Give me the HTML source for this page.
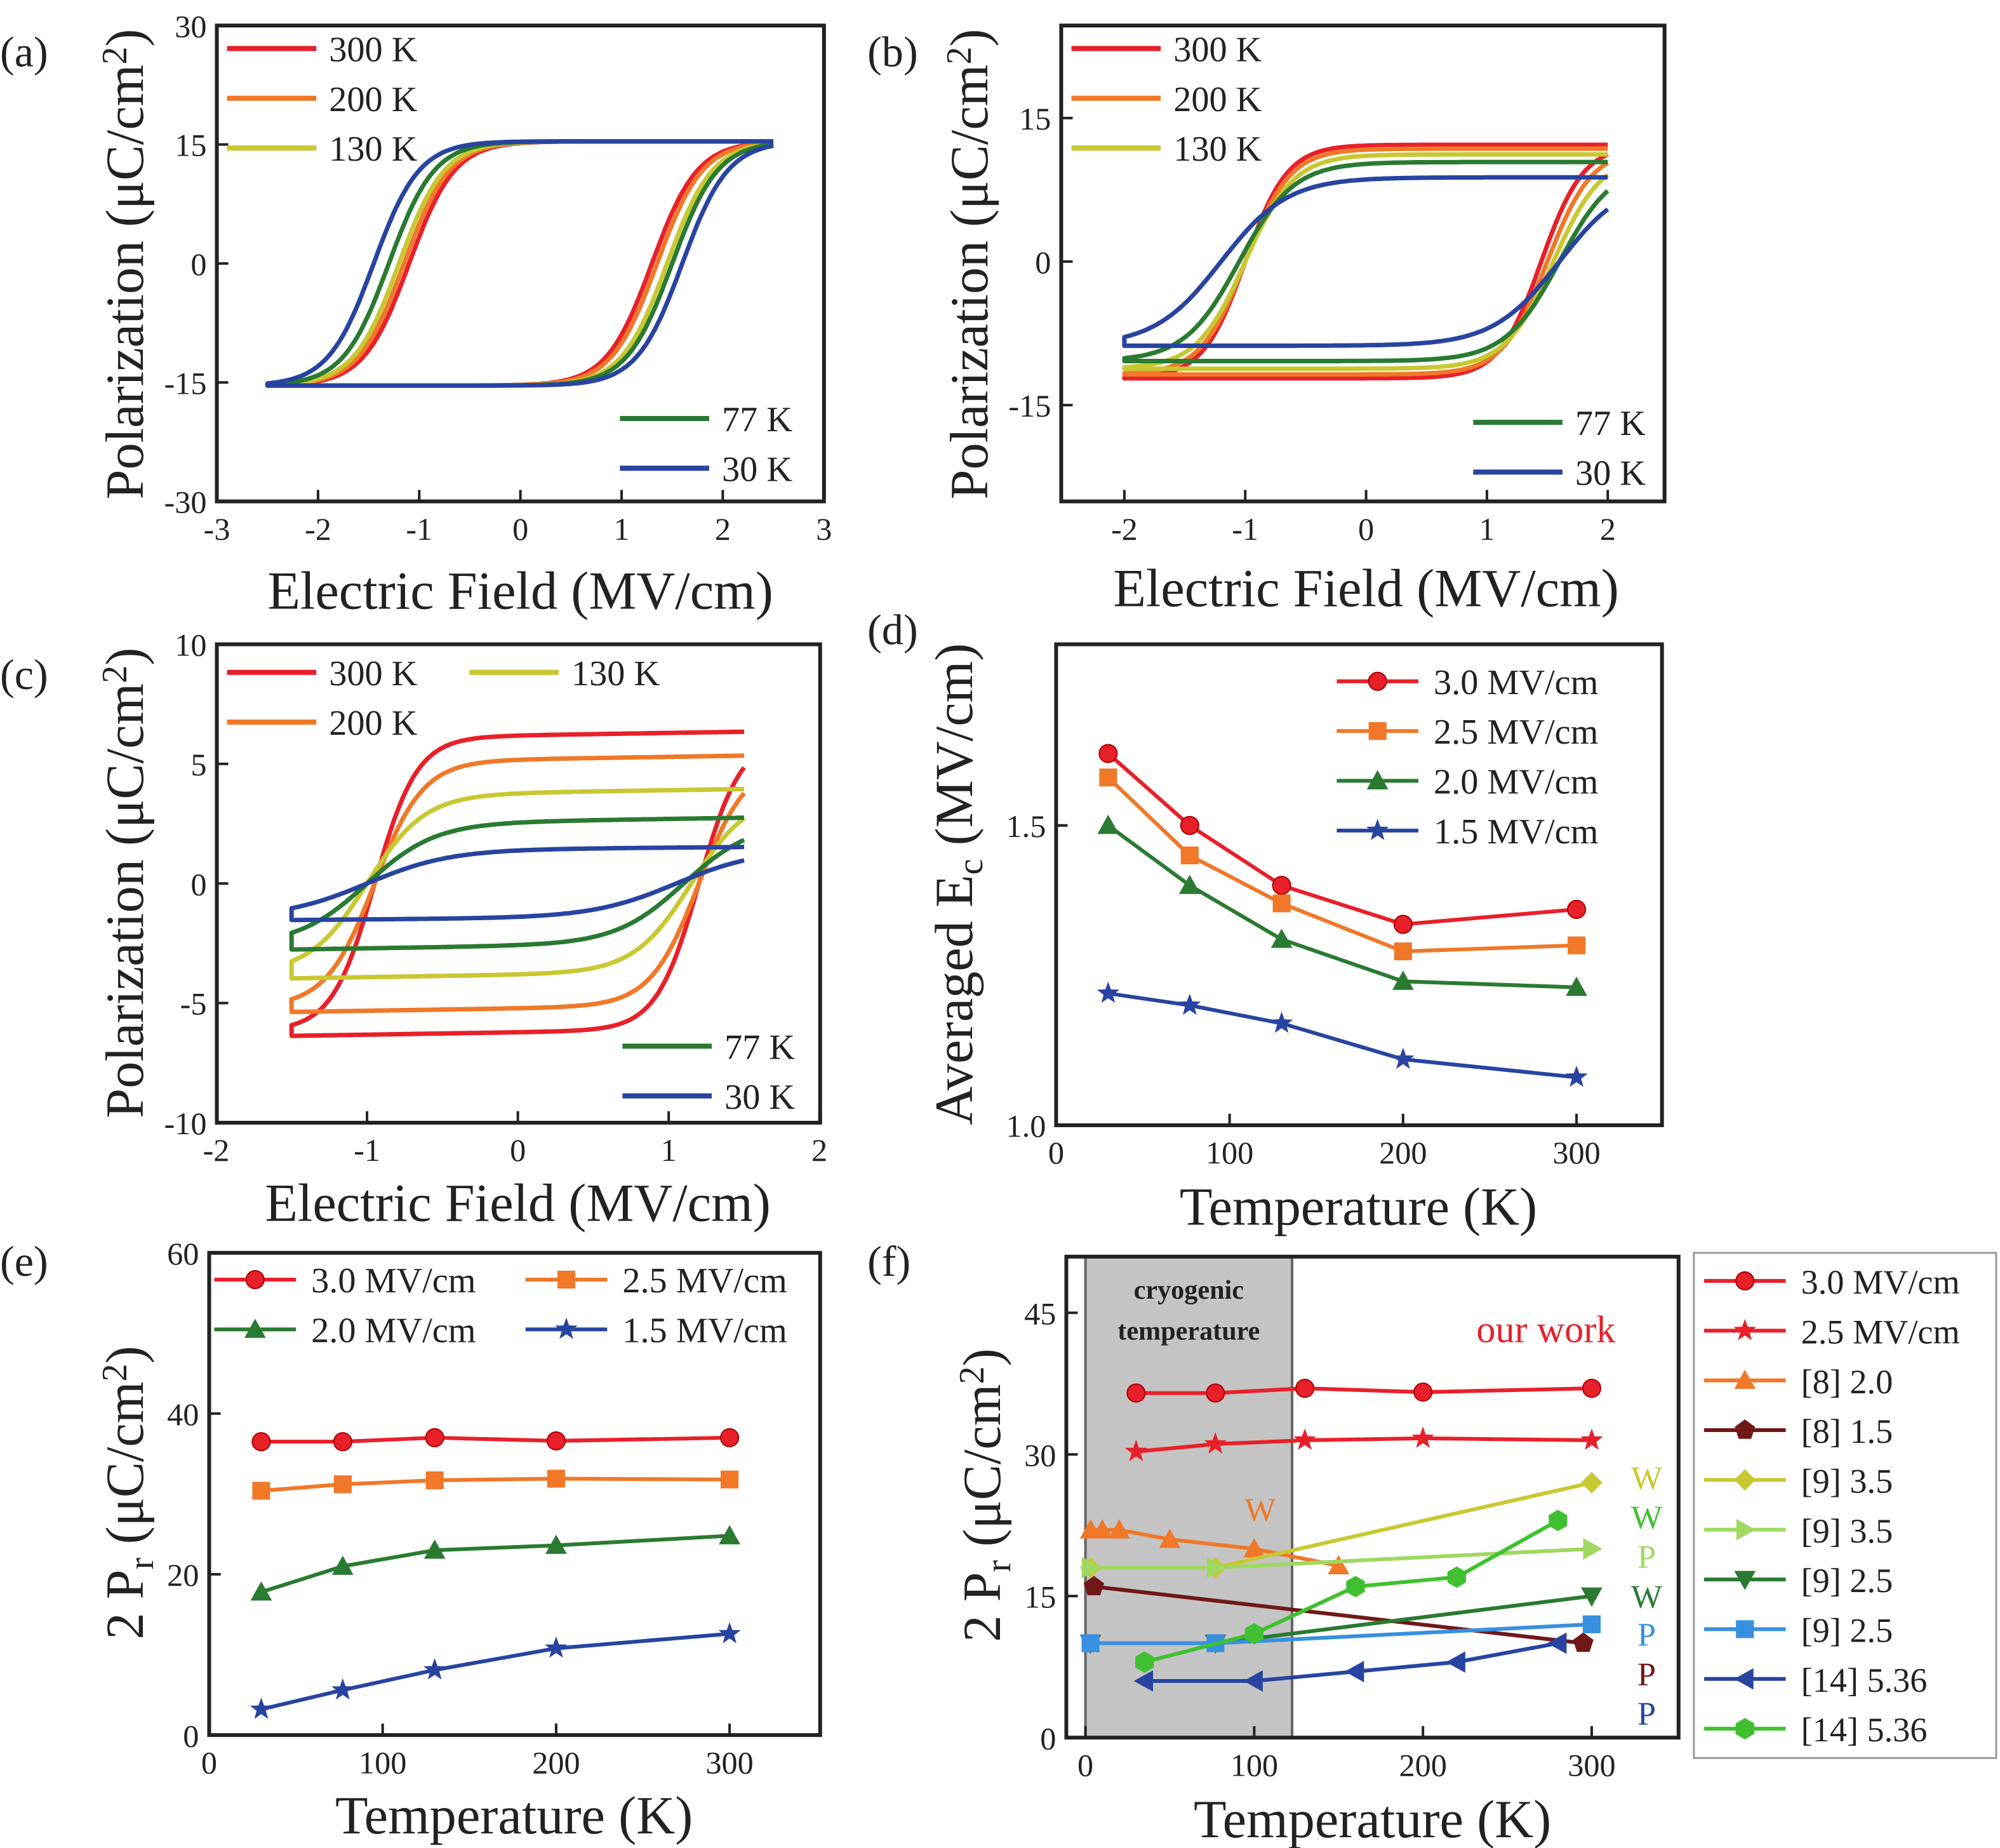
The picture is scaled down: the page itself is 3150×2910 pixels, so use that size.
<!DOCTYPE html>
<html><head><meta charset="utf-8"><style>
html,body{margin:0;padding:0;background:#fff;}
svg{display:block;font-family:"Liberation Serif",serif;}
</style></head><body>
<svg id="s" width="3150" height="2910" viewBox="0 0 1568 1448.5" xmlns="http://www.w3.org/2000/svg"></svg>
<script>
const S=document.getElementById('s');let h='';
const R='#e8202a',O='#f07828',Y='#c8c832',G='#2a7a32',B='#2844a0';
function txt(x,y,t,sz,anchor,fill,extra){h+=`<text x="${x}" y="${y}" font-size="${sz}" text-anchor="${anchor||'start'}" fill="${fill||'#222'}" ${extra||''}>${t}</text>`;}
function frame(x0,y0,x1,y1){h+=`<rect x="${x0}" y="${y0}" width="${x1-x0}" height="${y1-y0}" fill="none" stroke="#222" stroke-width="3"/>`;}
function xt(px,y1,lab){h+=`<line x1="${px}" y1="${y1}" x2="${px}" y2="${y1-9}" stroke="#222" stroke-width="2"/>`;txt(px,y1+30,lab,25,'middle');}
function yt(py,x0,lab){h+=`<line x1="${x0}" y1="${py}" x2="${x0+9}" y2="${py}" stroke="#222" stroke-width="2"/>`;txt(x0-8,py+9,lab,25,'end');}
function path(pts,c,w){h+=`<path d="M${pts.map(p=>p[0].toFixed(1)+','+p[1].toFixed(1)).join('L')}" fill="none" stroke="${c}" stroke-width="${w||3.5}" stroke-linejoin="round"/>`;}
function loop(fx,fy,Em,Ps,en,ep,w,lin,c){
  let up=[],lo=[];
  for(let i=0;i<=200;i++){let E=Em-2*Em*i/200;up.push([fx(E),fy(Ps*Math.tanh((E+en)/w)+lin*(E+en))]);}
  for(let i=0;i<=200;i++){let E=-Em+2*Em*i/200;lo.push([fx(E),fy(Ps*Math.tanh((E-ep)/w)+lin*(E-ep))]);}
  path(up.concat(lo),c,3.5);
}
function leg(x,y,c,t,sz){h+=`<line x1="${x}" y1="${y}" x2="${x+70}" y2="${y}" stroke="${c}" stroke-width="4"/>`;txt(x+80,y+10,t,sz||28);}
function ytitle(x,y,content){h+=`<text transform="translate(${x},${y}) rotate(-90)" font-size="42" text-anchor="middle" fill="#222">${content}</text>`;}
const AT=42;
// (a)
{let fx=E=>408+E*79.33,fy=P=>206.5-P*6.217;
 frame(170,20,646,393);
 [-3,-2,-1,0,1,2,3].forEach(v=>xt(fx(v),393,v));[-30,-15,0,15,30].forEach(v=>yt(fy(v),170,v));
 [[R,1.1,1.3],[O,1.15,1.35],[Y,1.2,1.45],[G,1.3,1.5],[B,1.45,1.6]].forEach(a=>loop(fx,fy,2.5,15.4,a[1],a[2],0.45,0,a[0]));
 leg(178,38,R,'300 K');leg(178,77,O,'200 K');leg(178,116,Y,'130 K');leg(486,328,G,'77 K');leg(486,367,B,'30 K');
 txt(0,52,'(a)',34);ytitle(112,207,'Polarization (μC/cm<tspan dy="-13" font-size="28">2</tspan><tspan dy="13">)</tspan>');
 txt(408,477,'Electric Field (MV/cm)',AT,'middle');}
// (b)
{let fx=E=>1071+E*94.75,fy=P=>205-P*7.5;
 frame(832,20,1305,393);
 [-2,-1,0,1,2].forEach(v=>xt(fx(v),393,v));[-15,0,15].forEach(v=>yt(fy(v),832,v));
 [[R,12.2,1.0,1.45,0.35],[O,11.8,1.0,1.5,0.37],[Y,11.2,1.0,1.55,0.4],[G,10.4,1.05,1.6,0.45],[B,8.8,1.2,1.6,0.55]].forEach(a=>loop(fx,fy,2,a[1],a[2],a[3],a[4],0,a[0]));
 leg(840,38,R,'300 K');leg(840,77,O,'200 K');leg(840,116,Y,'130 K');leg(1155,331,G,'77 K');leg(1155,370,B,'30 K');
 txt(680,52,'(b)',34);ytitle(774,207,'Polarization (μC/cm<tspan dy="-13" font-size="28">2</tspan><tspan dy="13">)</tspan>');
 txt(1071,475,'Electric Field (MV/cm)',AT,'middle');}
// (c)
{let fx=E=>406+E*118.25,fy=P=>692.5-P*18.75;
 frame(170,505,643,880);
 [-2,-1,0,1,2].forEach(v=>xt(fx(v),880,v));[-10,-5,0,5,10].forEach(v=>yt(fy(v),170,v));
 [[R,6.1,0.95,1.2,0.28,0.1],[O,5.1,0.95,1.2,0.32,0.1],[Y,3.7,1.0,1.15,0.38,0.1],[G,2.5,1.0,1.1,0.45,0.1],[B,1.4,1.0,1.05,0.55,0.05]].forEach(a=>loop(fx,fy,1.5,a[1],a[2],a[3],a[4],a[5],a[0]));
 leg(178,527,R,'300 K');leg(178,566,O,'200 K');leg(368,527,Y,'130 K');leg(488,820,G,'77 K');leg(488,859,B,'30 K');
 txt(0,540,'(c)',34);ytitle(112,692,'Polarization (μC/cm<tspan dy="-13" font-size="28">2</tspan><tspan dy="13">)</tspan>');
 txt(406,957,'Electric Field (MV/cm)',AT,'middle');}
function mark(x,y,t,c,r){r=r||7;let s='';
 if(t=='o')s=`<circle cx="${x}" cy="${y}" r="${r}" fill="${c}" stroke="#a00" stroke-width="1"/>`;
 else if(t=='s')s=`<rect x="${x-r}" y="${y-r}" width="${2*r}" height="${2*r}" fill="${c}"/>`;
 else{let pts;const R2=r*1.2;
  if(t=='^')pts=[[0,-R2],[R2,R2*.8],[-R2,R2*.8]];
  else if(t=='v')pts=[[0,R2],[R2,-R2*.8],[-R2,-R2*.8]];
  else if(t=='>')pts=[[R2,0],[-R2*.8,R2],[-R2*.8,-R2]];
  else if(t=='<')pts=[[-R2,0],[R2*.8,R2],[R2*.8,-R2]];
  else if(t=='d')pts=[[0,-R2],[R2,0],[0,R2],[-R2,0]];
  else{let n=t=='p'?5:(t=='h'?6:10);pts=[];for(let i=0;i<n;i++){let a=-Math.PI/2+i*2*Math.PI/n;let rr=t=='*'?(i%2?R2*.45:R2*1.1):R2;pts.push([rr*Math.cos(a),rr*Math.sin(a)]);}}
  s=`<polygon points="${pts.map(p=>(x+p[0]).toFixed(1)+','+(y+p[1]).toFixed(1)).join(' ')}" fill="${c}"/>`;}
 h+=s;}
function series(fx,fy,d,c,m){path(d.map(p=>[fx(p[0]),fy(p[1])]),c,3);d.forEach(p=>mark(fx(p[0]),fy(p[1]),m,c));}
function lleg(x,y,c,m,t,sz){h+=`<line x1="${x}" y1="${y}" x2="${x+64}" y2="${y}" stroke="${c}" stroke-width="3"/>`;mark(x+32,y,m,c);txt(x+76,y+10,t,sz||28);}
const T=[30,77,130,200,300];
// (d)
{let fx=t=>828+t*1.36,fy=v=>882-(v-1)*470;
 frame(828,505,1303,882);
 [0,100,200,300].forEach(v=>xt(fx(v),882,v));[[1.0,'1.0'],[1.5,'1.5']].forEach(v=>yt(fy(v[0]),828,v[1]));
 [[[1.62,1.50,1.40,1.335,1.36],R,'o'],[[1.58,1.45,1.37,1.29,1.30],O,'s'],[[1.50,1.40,1.31,1.24,1.23],G,'^'],[[1.22,1.20,1.17,1.11,1.08],B,'*']].forEach(a=>series(fx,fy,T.map((t,i)=>[t,a[0][i]]),a[1],a[2]));
 lleg(1048,534,R,'o','3.0 MV/cm');lleg(1048,573,O,'s','2.5 MV/cm');lleg(1048,612,G,'^','2.0 MV/cm');lleg(1048,651,B,'*','1.5 MV/cm');
 txt(680,505,'(d)',34);ytitle(762,693,'Averaged E<tspan dy="8" font-size="28">c</tspan><tspan dy="-8"> (MV/cm)</tspan>');
 txt(1065,960,'Temperature (K)',AT,'middle');}
// (e)
{let fx=t=>164+t*1.36,fy=v=>1360-v*6.3;
 frame(164,982,643,1360);
 [0,100,200,300].forEach(v=>xt(fx(v),1360,v));[0,20,40,60].forEach(v=>yt(fy(v),164,v));
 [[[36.5,36.5,37,36.6,37],R,'o'],[[30.4,31.2,31.7,31.9,31.8],O,'s'],[[17.8,21,23,23.6,24.8],G,'^'],[[3.2,5.6,8.1,10.8,12.6],B,'*']].forEach(a=>series(fx,fy,T.map((t,i)=>[t,a[0][i]]),a[1],a[2]));
 lleg(168,1003,R,'o','3.0 MV/cm');lleg(412,1003,O,'s','2.5 MV/cm');lleg(168,1042,G,'^','2.0 MV/cm');lleg(412,1042,B,'*','1.5 MV/cm');
 txt(0,1000,'(e)',34);ytitle(112,1170,'2 P<tspan dy="8" font-size="28">r</tspan><tspan dy="-8"> (μC/cm</tspan><tspan dy="-13" font-size="28">2</tspan><tspan dy="13">)</tspan>');
 txt(403,1437,'Temperature (K)',AT,'middle');}
// (f)
{let fx=t=>851+t*1.323,fy=v=>1362-v*7.4;
 h+=`<rect x="851" y="985" width="162" height="377" fill="#c4c4c4" stroke="#666" stroke-width="2"/>`;
 frame(836,985,1316,1362);
 [0,100,200,300].forEach(v=>xt(fx(v),1362,v));[0,15,30,45].forEach(v=>yt(fy(v),836,v));
 const LO='#a0d860',LB='#3890e0',DR='#701818',HG='#40c030',DG='#2a7a32';
 series(fx,fy,[[30,36.5],[77,36.5],[130,37],[200,36.6],[300,37]],R,'o');
 series(fx,fy,[[30,30.3],[77,31.1],[130,31.5],[200,31.7],[300,31.5]],R,'*');
 series(fx,fy,[[3,22],[10,22],[20,22],[50,21],[100,20],[150,18.2]],O,'^');
 series(fx,fy,[[5,16],[295,10]],DR,'p');
 series(fx,fy,[[3,18],[77,18],[300,27]],Y,'d');
 series(fx,fy,[[3,18],[77,18],[300,20]],LO,'>');
 series(fx,fy,[[3,10],[77,10],[300,15]],DG,'v');
 series(fx,fy,[[3,10],[77,10],[300,12]],LB,'s');
 series(fx,fy,[[35,6],[100,6],[160,7],[220,8],[280,10]],B,'<');
 series(fx,fy,[[35,8],[100,11],[160,16],[220,17],[280,23]],HG,'h');
 txt(932,1018,'cryogenic',21,'middle','#222','font-weight="bold"');txt(932,1050,'temperature',21,'middle','#222','font-weight="bold"');
 txt(1212,1052,'our work',30,'middle',R);txt(988,1192,'W',26,'middle',O);
 [['W',1167,Y],['W',1198,HG],['P',1229,LO],['W',1260,DG],['P',1290,LB],['P',1321,DR],['P',1352,B]].forEach(a=>txt(1291,a[1],a[0],26,'middle',a[2]));
 h+=`<rect x="1328" y="982" width="237" height="396" fill="none" stroke="#999" stroke-width="1.5"/>`;
 const L=[[R,'o','3.0 MV/cm'],[R,'*','2.5 MV/cm'],[O,'^','[8] 2.0'],[DR,'p','[8] 1.5'],[Y,'d','[9] 3.5'],[LO,'>','[9] 3.5'],[DG,'v','[9] 2.5'],[LB,'s','[9] 2.5'],[B,'<','[14] 5.36'],[HG,'h','[14] 5.36']];
 L.forEach((a,i)=>lleg(1336,1004+i*39,a[0],a[1],a[2],27));
 txt(680,1000,'(f)',34);ytitle(784,1172,'2 P<tspan dy="8" font-size="28">r</tspan><tspan dy="-8"> (μC/cm</tspan><tspan dy="-13" font-size="28">2</tspan><tspan dy="13">)</tspan>');
 txt(1076,1440,'Temperature (K)',AT,'middle');}
S.innerHTML=h;
</script>
</body></html>
